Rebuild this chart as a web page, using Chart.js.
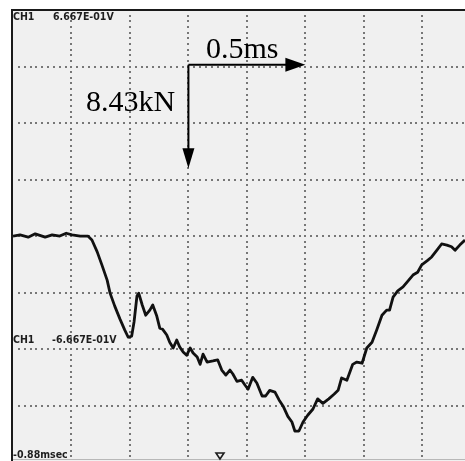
<!DOCTYPE html>
<html>
<head>
<meta charset="utf-8">
<script src="https://cdn.jsdelivr.net/npm/chart.js@4/dist/chart.umd.min.js"></script>
<style>
  html, body { margin: 0; padding: 0; background: #ffffff; }
  #wrap { width: 465px; height: 461px; }
</style>
</head>
<body>
<div id="wrap"><canvas id="scope" width="465" height="461"></canvas></div>
<script>
// Oscilloscope capture of a force pulse, CH1.
// Horizontal unit: screen divisions from the left edge of the screen.
// Vertical unit: screen divisions from the centre line (trace baseline).
const timeDiv = [
  0.00, 0.12, 0.26, 0.38, 0.55, 0.67, 0.80, 0.91, 1.01, 1.15, 1.28,
  1.35, 1.44, 1.52, 1.61, 1.66, 1.74, 1.83, 1.91, 1.97, 2.03, 2.07,
  2.12, 2.15, 2.21, 2.27, 2.34, 2.39, 2.46, 2.51, 2.56, 2.63, 2.68,
  2.74, 2.80, 2.85, 2.91, 2.97, 3.03, 3.08, 3.15, 3.20, 3.25, 3.32,
  3.42, 3.50, 3.57, 3.64, 3.71, 3.76, 3.83, 3.91, 3.97, 4.02, 4.10,
  4.17, 4.26, 4.32, 4.39, 4.48, 4.55, 4.62, 4.70, 4.77, 4.82, 4.89,
  4.96, 5.04, 5.13, 5.21, 5.30, 5.40, 5.49, 5.56, 5.62, 5.71, 5.81,
  5.88, 5.97, 6.05, 6.14, 6.22, 6.31, 6.39, 6.44, 6.50, 6.58, 6.67,
  6.75, 6.84, 6.92, 6.99, 7.08, 7.16, 7.25, 7.33, 7.42, 7.50, 7.56,
  7.64, 7.73
];
const signalDiv = [
  0.00, 0.02, -0.02, 0.04, -0.02, 0.02, 0.00, 0.05, 0.02, 0.00, 0.00,
  -0.07, -0.28, -0.51, -0.78, -1.01, -1.24, -1.47, -1.66, -1.79, -1.77, -1.52,
  -1.06, -1.01, -1.22, -1.40, -1.31, -1.22, -1.42, -1.63, -1.65, -1.75, -1.88,
  -1.98, -1.84, -1.96, -2.05, -2.11, -1.98, -2.07, -2.14, -2.27, -2.09, -2.23,
  -2.21, -2.19, -2.37, -2.46, -2.37, -2.44, -2.57, -2.55, -2.64, -2.71, -2.50,
  -2.60, -2.83, -2.83, -2.73, -2.76, -2.90, -3.01, -3.19, -3.29, -3.45, -3.45,
  -3.29, -3.17, -3.06, -2.88, -2.96, -2.88, -2.80, -2.73, -2.51, -2.55, -2.27,
  -2.23, -2.25, -1.98, -1.88, -1.66, -1.40, -1.31, -1.31, -1.08, -0.97, -0.90,
  -0.80, -0.69, -0.64, -0.51, -0.44, -0.37, -0.25, -0.14, -0.16, -0.19, -0.25,
  -0.16, -0.07
];

// Screen graticule
const gridCols = [1, 2, 3, 4, 5, 6, 7];
const gridRows = [-3, -2, -1, 0, 1, 2, 3];
const dotsPerDiv = 10;

// Screen readouts
const topReadout = ["CH1", "6.667E-01V"];
const bottomReadout = ["CH1", "-6.667E-01V"];
const timeReadout = "-0.88msec";

// Scale bar annotations: origin, horizontal tip, vertical tip (in divisions)
const scaleOrigin = [3, 3.03];
const timeBarEnd = 5.0;
const forceBarEnd = 1.2;
const timeBarLabel = "0.5ms";
const forceBarLabel = "8.43kN";
const triggerMark = 3.54;

const points = timeDiv.map((t, i) => ({ x: t, y: signalDiv[i] }));

const scopePlugin = {
  id: 'scopeScreen',
  beforeDatasetsDraw(chart) {
    const { ctx, chartArea: a, scales: { x, y } } = chart;
    ctx.save();
    ctx.fillStyle = '#f0f0f0';
    ctx.fillRect(a.left, a.top, a.right - a.left, a.bottom - a.top);
    ctx.fillStyle = '#777777';
    // vertical dotted lines
    gridCols.forEach(c => {
      const px = Math.round(x.getPixelForValue(c));
      const step = (y.getPixelForValue(0) - y.getPixelForValue(1)) / dotsPerDiv;
      for (let py = y.getPixelForValue(4) + step; py < a.bottom; py += step) {
        ctx.fillRect(px - 1, Math.round(py) - 1, 2, 2);
      }
    });
    // horizontal dotted lines
    gridRows.forEach(r => {
      const py = Math.round(y.getPixelForValue(r));
      const step = (x.getPixelForValue(1) - x.getPixelForValue(0)) / dotsPerDiv;
      for (let px = x.getPixelForValue(0) + step; px < a.right; px += step) {
        ctx.fillRect(Math.round(px) - 1, py - 1, 2, 2);
      }
    });
    ctx.restore();
  },
  afterDatasetsDraw(chart) {
    const { ctx, chartArea: a, scales: { x, y } } = chart;
    ctx.save();
    // screen frame
    ctx.fillStyle = '#1a1a1a';
    ctx.fillRect(a.left - 2, a.top - 1, a.right - a.left + 2, 2);
    ctx.fillRect(a.left - 2, a.top - 1, 2, a.bottom - a.top + 1);
    ctx.fillStyle = '#b8b8b8';
    ctx.fillRect(a.left, a.bottom - 2, a.right - a.left, 1);

    // readouts
    ctx.fillStyle = '#1e1e1e';
    ctx.font = 'bold 10.5px "DejaVu Sans Condensed", "DejaVu Sans", sans-serif';
    ctx.textBaseline = 'alphabetic';
    ctx.textAlign = 'left';
    ctx.fillText(topReadout[0], 13, 20);
    ctx.fillText(topReadout[1], 53, 20);
    ctx.fillText(bottomReadout[0], 13, 343);
    ctx.fillText(bottomReadout[1], 52, 343);
    ctx.fillText(timeReadout, 13, 458);

    // trigger marker
    const tx = x.getPixelForValue(triggerMark);
    ctx.strokeStyle = '#1e1e1e';
    ctx.lineWidth = 1.6;
    ctx.beginPath();
    ctx.moveTo(tx - 4, 453);
    ctx.lineTo(tx + 4, 453);
    ctx.lineTo(tx, 459);
    ctx.closePath();
    ctx.stroke();

    // scale bars
    const ox = x.getPixelForValue(scaleOrigin[0]);
    const oy = y.getPixelForValue(scaleOrigin[1]);
    const hx = x.getPixelForValue(timeBarEnd);
    const vy = y.getPixelForValue(forceBarEnd);
    ctx.strokeStyle = '#000';
    ctx.fillStyle = '#000';
    ctx.lineWidth = 2;
    ctx.beginPath();
    ctx.moveTo(ox, oy);
    ctx.lineTo(hx - 18, oy);
    ctx.moveTo(ox, oy);
    ctx.lineTo(ox, vy - 18);
    ctx.stroke();
    ctx.beginPath();
    ctx.moveTo(hx, oy);
    ctx.lineTo(hx - 20, oy - 7);
    ctx.lineTo(hx - 20, oy + 7);
    ctx.closePath();
    ctx.fill();
    ctx.beginPath();
    ctx.moveTo(ox, vy);
    ctx.lineTo(ox - 6, vy - 20);
    ctx.lineTo(ox + 6, vy - 20);
    ctx.closePath();
    ctx.fill();

    ctx.font = '30px "Liberation Serif", "Times New Roman", serif';
    ctx.fillText(timeBarLabel, 206, 58);
    ctx.fillText(forceBarLabel, 86, 111);
    ctx.restore();
  }
};

new Chart(document.getElementById('scope'), {
  type: 'line',
  data: {
    datasets: [{
      data: points,
      borderColor: '#111111',
      borderWidth: 2.8,
      borderJoinStyle: 'round',
      pointRadius: 0,
      tension: 0,
      fill: false
    }]
  },
  options: {
    responsive: false,
    animation: false,
    layout: { padding: { left: 13, top: 10, right: 0, bottom: 0 } },
    plugins: { legend: { display: false }, tooltip: { enabled: false } },
    scales: {
      x: { type: 'linear', min: 0, max: 7.73, display: false },
      y: { type: 'linear', min: -3.98, max: 4, display: false }
    }
  },
  plugins: [scopePlugin]
});
</script>
</body>
</html>
